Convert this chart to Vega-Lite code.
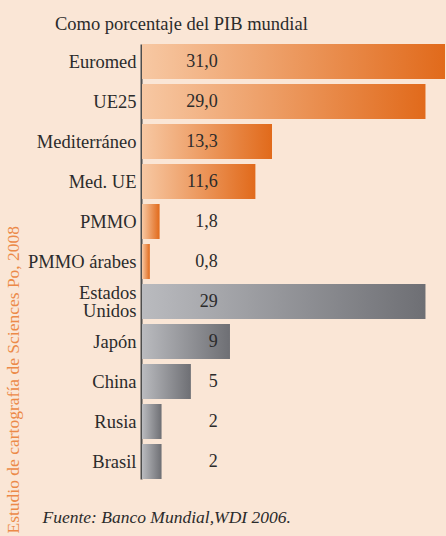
{
  "$schema": "https://vega.github.io/schema/vega-lite/v6.json",
  "width": 304,
  "height": 435,
  "autosize": {"type": "none"},
  "padding": {"left": 142, "top": 44, "right": 0, "bottom": 57},
  "background": "#fae6d6",
  "title": {
    "text": "Como porcentaje del PIB mundial",
    "anchor": "start",
    "frame": "group",
    "dx": -87,
    "dy": 18,
    "offset": 14,
    "baseline": "alphabetic",
    "font": "Liberation Serif",
    "fontSize": 18.5,
    "fontWeight": "normal",
    "color": "#2b2b2b"
  },
  "config": {"view": {"stroke": null}},
  "data": {
    "values": [
      {"region": "Euromed", "valor": 31.0, "etiqueta": "31,0", "grupo": "med"},
      {"region": "UE25", "valor": 29.0, "etiqueta": "29,0", "grupo": "med"},
      {"region": "Mediterráneo", "valor": 13.3, "etiqueta": "13,3", "grupo": "med"},
      {"region": "Med. UE", "valor": 11.6, "etiqueta": "11,6", "grupo": "med"},
      {"region": "PMMO", "valor": 1.8, "etiqueta": "1,8", "grupo": "med"},
      {"region": "PMMO árabes", "valor": 0.8, "etiqueta": "0,8", "grupo": "med"},
      {"region": "Estados|Unidos", "valor": 29, "etiqueta": "29", "grupo": "otro"},
      {"region": "Japón", "valor": 9, "etiqueta": "9", "grupo": "otro"},
      {"region": "China", "valor": 5, "etiqueta": "5", "grupo": "otro"},
      {"region": "Rusia", "valor": 2, "etiqueta": "2", "grupo": "otro"},
      {"region": "Brasil", "valor": 2, "etiqueta": "2", "grupo": "otro"}
    ]
  },
  "encoding": {
    "y": {
      "field": "region",
      "type": "nominal",
      "sort": null,
      "scale": {"paddingInner": 0.125, "paddingOuter": 0},
      "axis": {
        "title": "Estudio de cartografía de Sciences Po, 2008",
        "titleFont": "Liberation Serif",
        "titleFontSize": 17.5,
        "titleFontWeight": "normal",
        "titleColor": "#ec8a48",
        "titleAngle": -90,
        "titleX": -128,
        "titleY": 489,
        "titleAlign": "left",
        "titleBaseline": "middle",
        "ticks": false,
        "offset": 1,
        "domainColor": "#4d4d4d",
        "domainWidth": 2,
        "labelFont": "Liberation Serif",
        "labelFontSize": 18.5,
        "labelColor": "#2b2b2b",
        "labelPadding": 5,
        "labelExpr": "split(datum.value, '|')",
        "labelLineHeight": 18.5,
        "labelOffset": {"condition": {"test": "indexof(datum.value, '|') >= 0", "value": -9}, "value": 0}
      }
    }
  },
  "layer": [
    {
      "transform": [{"filter": "datum.grupo === 'med'"}],
      "mark": {
        "type": "bar",
        "clip": true,
        "color": {
          "gradient": "linear",
          "x1": 0, "y1": 0, "x2": 1, "y2": 0,
          "stops": [
            {"offset": 0, "color": "#f7c8a3"},
            {"offset": 1, "color": "#e16a1b"}
          ]
        }
      },
      "encoding": {
        "x": {
          "field": "valor",
          "type": "quantitative",
          "scale": {"domain": [0, 31.1], "nice": false},
          "axis": {
            "title": "Fuente: Banco Mundial,WDI 2006.",
            "domain": false,
            "ticks": false,
            "labels": false,
            "grid": false,
            "titleFont": "Liberation Serif",
            "titleFontStyle": "italic",
            "titleFontWeight": "normal",
            "titleFontSize": 17.5,
            "titleColor": "#2b2b2b",
            "titleX": -100,
            "titleY": 43,
            "titleAlign": "left",
            "titleBaseline": "alphabetic"
          }
        }
      }
    },
    {
      "transform": [{"filter": "datum.grupo === 'otro'"}],
      "mark": {
        "type": "bar",
        "clip": true,
        "color": {
          "gradient": "linear",
          "x1": 0, "y1": 0, "x2": 1, "y2": 0,
          "stops": [
            {"offset": 0, "color": "#babbbf"},
            {"offset": 1, "color": "#6e6f74"}
          ]
        }
      },
      "encoding": {
        "x": {
          "field": "valor",
          "type": "quantitative",
          "axis": {
            "title": "Fuente: Banco Mundial,WDI 2006.",
            "domain": false,
            "ticks": false,
            "labels": false,
            "grid": false,
            "titleFont": "Liberation Serif",
            "titleFontStyle": "italic",
            "titleFontWeight": "normal",
            "titleFontSize": 17.5,
            "titleColor": "#2b2b2b",
            "titleX": -100,
            "titleY": 43,
            "titleAlign": "left",
            "titleBaseline": "alphabetic"
          }
        }
      }
    },
    {
      "mark": {
        "type": "text",
        "align": "right",
        "baseline": "middle",
        "font": "Liberation Serif",
        "fontSize": 18,
        "color": "#2b2b2b"
      },
      "encoding": {
        "x": {
          "datum": 7.76,
          "type": "quantitative",
          "axis": {
            "title": "Fuente: Banco Mundial,WDI 2006.",
            "domain": false,
            "ticks": false,
            "labels": false,
            "grid": false,
            "titleFont": "Liberation Serif",
            "titleFontStyle": "italic",
            "titleFontWeight": "normal",
            "titleFontSize": 17.5,
            "titleColor": "#2b2b2b",
            "titleX": -100,
            "titleY": 43,
            "titleAlign": "left",
            "titleBaseline": "alphabetic"
          }
        },
        "text": {"field": "etiqueta"}
      }
    }
  ]
}
